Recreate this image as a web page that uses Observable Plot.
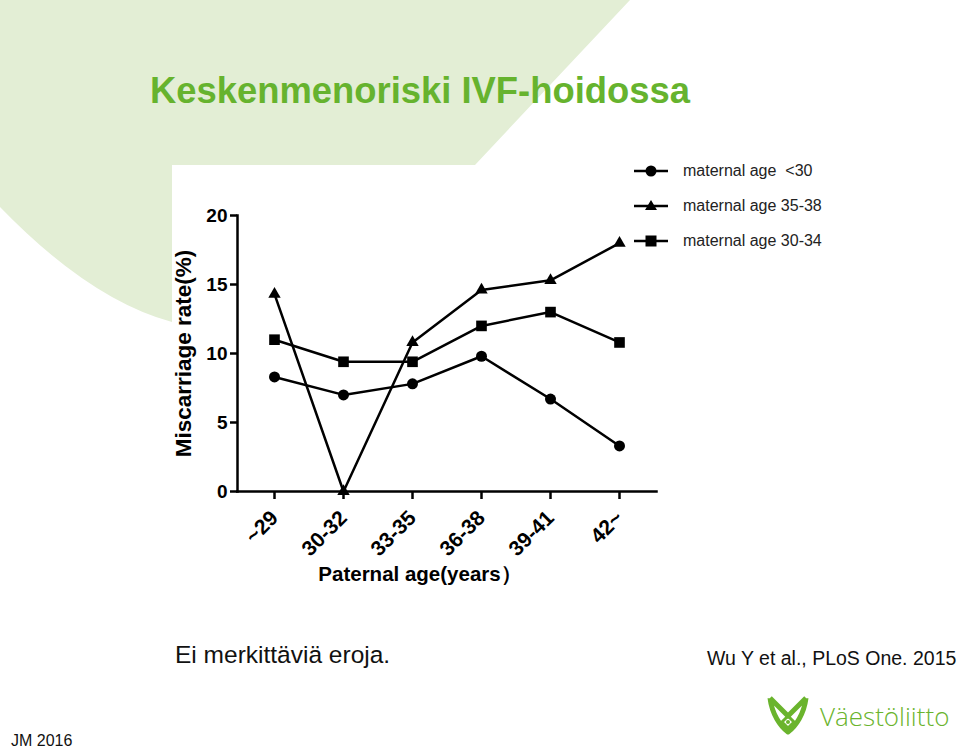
<!DOCTYPE html>
<html>
<head>
<meta charset="utf-8">
<script src="https://cdn.jsdelivr.net/npm/d3@7"></script>
<script src="https://cdn.jsdelivr.net/npm/@observablehq/plot@0.6"></script>
<style>
  html, body { margin: 0; padding: 0; background: #fff; }
  #page { position: relative; width: 960px; height: 752px; overflow: hidden; font-family: "Liberation Sans", Arial, sans-serif; }
  #bg { position: absolute; left: 0; top: 0; }
  #chart { position: absolute; left: 0; top: 0; }
  .abs { position: absolute; white-space: pre; }
  #title { left: 150px; top: 73px; font-size: 36.4px; font-weight: bold; color: #66b32e; line-height: 1; }
  .legrow { position: absolute; left: 634px; height: 20px; display: flex; align-items: center; }
  .legrow span { margin-left: 15px; font-size: 16px; color: #222; white-space: pre; }
</style>
</head>
<body>
<div id="page">
  <svg id="bg" width="960" height="752">
    <path d="M0,0 L630,0 L475,165 L172,165 L172,322 Q90,300 0,207 Z" fill="#e3eed5"></path>
  </svg>
  <div id="title" class="abs">Keskenmenoriski IVF-hoidossa</div>
  <div id="chart"></div>
  <div id="legend"></div>
  <div class="abs" style="left:175px; top:641px; font-size:24.5px; color:#111;">Ei merkittäviä eroja.</div>
  <div class="abs" style="left:707px; top:647px; font-size:19.5px; color:#111;">Wu Y et al., PLoS One. 2015</div>
  <div class="abs" style="left:11px; top:732px; font-size:16px; color:#111;">JM 2016</div>
  <svg class="abs" style="left:766px; top:692px;" width="50" height="46">
    <path d="M4,6 L22,24 L40,6 M4,6 C6,22 14,34 22,40 C30,34 38,22 40,6" fill="none" stroke="#6ab42d" stroke-width="5" stroke-linejoin="round"></path>
    <path d="M22,24 L28,30 L22,36 L16,30 Z" fill="none" stroke="#6ab42d" stroke-width="3"></path>
    <circle cx="22" cy="30" r="2" fill="#6ab42d"></circle>
  </svg>
  <div class="abs" style="left:820px; top:698px; font-size:26px; color:#6ab42d; font-family:'Open Sans', sans-serif; font-weight:300;">Väestöliitto</div>
</div>
<script>
// ---- data ----
const categories = ["~29", "30-32", "33-35", "36-38", "39-41", "42~"];
const seriesNames = ["maternal age  <30", "maternal age 35-38", "maternal age 30-34"];
const valuesUnder30 = [8.3, 7.0, 7.8, 9.8, 6.7, 3.3];
const values35to38 = [14.3, 0.0, 10.8, 14.6, 15.3, 18.0];
const values30to34 = [11.0, 9.4, 9.4, 12.0, 13.0, 10.8];
const yTicks = [0, 5, 10, 15, 20];
const yLabel = "Miscarriage rate(%)";
const xLabel = "Paternal age(years）";

const symbols = ["circle", "triangle", "square"];
const radii = [5.5, 4.6, 6];
const seriesValues = [valuesUnder30, values35to38, values30to34];

const rows = seriesValues.map((vals, s) =>
  categories.map((c, i) => ({ series: seriesNames[s], cat: c, value: vals[i] })));

const marks = [
  Plot.axisY({ ticks: yTicks, tickSize: 7, tickPadding: 3, fontSize: 19, fontWeight: "bold", label: null, strokeWidth: 2.5 }),
  Plot.axisX({ tickSize: 8, tickPadding: 15, tickRotate: -45, fontSize: 21, fontWeight: "bold", label: null, strokeWidth: 2.5 }),
  Plot.frame({ anchor: "left", strokeWidth: 2.5 }),
  Plot.frame({ anchor: "bottom", strokeWidth: 2.5 }),
  Plot.text([yLabel], { frameAnchor: "left", rotate: -90, textAnchor: "middle", dx: -54, fontSize: 22.5, fontWeight: "bold" }),
  Plot.text([xLabel], { frameAnchor: "bottom", dy: 89, dx: -27, fontSize: 20.5, fontWeight: "bold" })
];
rows.forEach((data, s) => {
  marks.push(Plot.line(data, { x: "cat", y: "value", stroke: "#000", strokeWidth: 2.5 }));
  marks.push(Plot.dot(data, { x: "cat", y: "value", symbol: () => symbols[s], r: radii[s], fill: "#000", stroke: "none" }));
});

const chart = Plot.plot({
  width: 960, height: 752,
  marginLeft: 237, marginRight: 304, marginTop: 215, marginBottom: 261,
  style: { background: "transparent", fontFamily: "'Liberation Sans', Arial, sans-serif", color: "#000", overflow: "visible" },
  x: { type: "point", domain: categories, padding: 0.5 },
  y: { domain: [0, 20] },
  symbol: { type: "identity" },
  marks
});
document.getElementById("chart").appendChild(chart);

// ---- legend ----
const legend = document.getElementById("legend");
const legendTops = [161, 196, 231];
seriesNames.forEach((name, s) => {
  const row = document.createElement("div");
  row.className = "legrow";
  row.style.top = legendTops[s] + "px";
  const sym = symbols[s];
  let shape = "";
  if (sym === "circle") shape = '<circle cx="17" cy="10" r="5.5" fill="#000"/>';
  if (sym === "triangle") shape = '<path d="M17,4 L23,14 L11,14 Z" fill="#000"/>';
  if (sym === "square") shape = '<rect x="11.5" y="4.5" width="11" height="11" fill="#000"/>';
  row.innerHTML = '<svg width="34" height="20"><line x1="0" y1="10" x2="34" y2="10" stroke="#000" stroke-width="2.5"/>' + shape + '</svg><span>' + name + '</span>';
  legend.appendChild(row);
});
</script>
</body>
</html>
